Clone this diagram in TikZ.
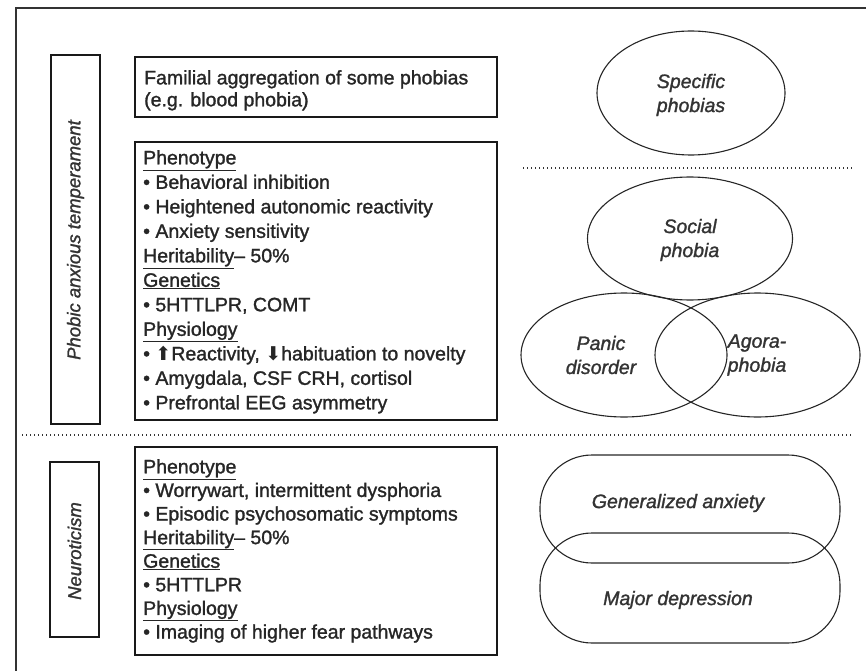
\documentclass[tikz,border=0pt]{standalone}
\usepackage{fontspec}
\setmainfont{Liberation Sans}[FakeBold=1.4]
\newfontfamily\symfont{DejaVu Sans}
\usetikzlibrary{shapes.geometric}
\newcommand{\uparr}{{\symfont\fontsize{19}{19}\selectfont ⬆}}
\newcommand{\downarr}{{\symfont\fontsize{19}{19}\selectfont ⬇}}
\begin{document}
\begin{tikzpicture}[x=1pt,y=-1pt,
  frame/.style={draw=black!80,line width=1.8pt},
  box/.style={draw=black!90,line width=1.4pt},
  sep/.style={draw=black!80,line width=1.3pt,dash pattern=on 1.3pt off 2.7pt},
  oval/.style={draw=black!85,line width=1.1pt,ellipse,inner sep=0pt},
  pill/.style={draw=black!85,line width=1.1pt,rounded corners=52pt},
  listing/.style={anchor=north west,inner sep=0pt,align=left,text=black!85},
  tag/.style={inner sep=0pt,align=center,text=black!80,font=\fontsize{19.5}{24}\selectfont\itshape},
  sidetag/.style={inner sep=0pt,rotate=90,text=black!80,font=\fontsize{18.5}{20}\selectfont\itshape}]
\useasboundingbox (0,0) rectangle (866,671);

% outer frame (top and left edges only)
\coordinate (ftr) at (866,8);
\coordinate (ftl) at (16,8);
\coordinate (fbl) at (16,671);
\draw[frame] (ftr) -- (ftl) -- (fbl);

% horizontal separators
\coordinate (s1a) at (22,435);
\coordinate (s1b) at (853,435);
\coordinate (s2a) at (523,168);
\coordinate (s2b) at (853,168);
\draw[sep] (s1a) -- (s1b);
\draw[sep] (s2a) -- (s2b);

% side labels
\draw[box] (51,55) rectangle (100,424);
\node[sidetag] (pat) at (75.5,240) {Phobic anxious temperament};
\draw[box] (50,462) rectangle (99,637);
\node[sidetag] (neu) at (74.5,551) {Neuroticism};

% text boxes
\draw[box] (135,57) rectangle (497,117);
\node[listing,font=\fontsize{19.5}{22}\selectfont] (fam) at (144,70)
  {Familial aggregation of some phobias\\(e.g. blood phobia)};

\draw[box] (135,142) rectangle (497,420);
\node[listing,font=\fontsize{19.5}{24.5}\selectfont] (pt1) at (143,150)
  {\underline{Phenotype}\\
   • Behavioral inhibition\\
   • Heightened autonomic reactivity\\
   • Anxiety sensitivity\\
   \underline{Heritability}– 50\%\\
   \underline{Genetics}\\
   • 5HTTLPR, COMT\\
   \underline{Physiology}\\
   • \uparr Reactivity, \downarr habituation to novelty\\
   • Amygdala, CSF CRH, cortisol\\
   • Prefrontal EEG asymmetry};

\draw[box] (135,447) rectangle (497,655);
\node[listing,font=\fontsize{19.5}{23.6}\selectfont] (pt2) at (143,459)
  {\underline{Phenotype}\\
   • Worrywart, intermittent dysphoria\\
   • Episodic psychosomatic symptoms\\
   \underline{Heritability}– 50\%\\
   \underline{Genetics}\\
   • 5HTTLPR\\
   \underline{Physiology}\\
   • Imaging of higher fear pathways};

% disorder ovals
\node[oval,minimum width=188pt,minimum height=124pt] (spec) at (691,93) {};
\node[tag] (spect) at (691,95) {Specific\\phobias};
\node[oval,minimum width=205pt,minimum height=123pt] (soc) at (690,238.5) {};
\node[tag] (soct) at (690,240) {Social\\phobia};
\node[oval,minimum width=206pt,minimum height=124pt] (pan) at (624,355) {};
\node[tag] (pant) at (601,355) {Panic\\disorder};
\node[oval,minimum width=205pt,minimum height=124pt] (ago) at (757.5,355) {};
\node[tag] (agot) at (757,355) {Agora-\\phobia};

\draw[pill] (540,455) rectangle (840,563);
\node[tag] (gad) at (678,503) {Generalized anxiety};
\draw[pill] (540,533) rectangle (840,643);
\node[tag] (mdd) at (678,600) {Major depression};
\end{tikzpicture}
\end{document}
